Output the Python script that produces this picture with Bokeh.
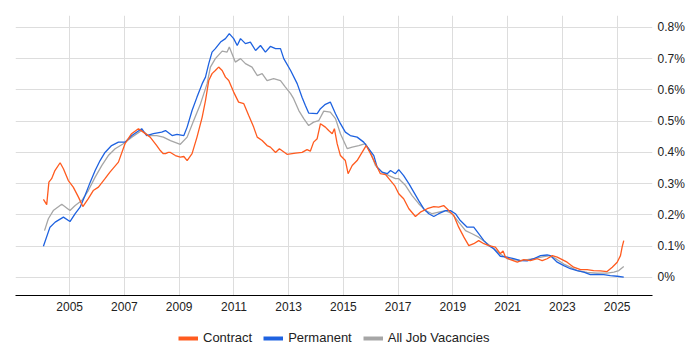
from bokeh.plotting import figure
from bokeh.layouts import column
from bokeh.models import Range1d, Legend, LegendItem, CustomJSTickFormatter, FixedTicker, LinearAxis
from bokeh.embed import file_html
from bokeh.resources import INLINE

contract_year = [2004.04, 2004.16, 2004.24, 2004.34, 2004.46, 2004.65, 2004.77, 2004.95, 2005.13, 2005.32,
                 2005.48, 2005.68, 2005.86, 2006.05, 2006.29, 2006.47, 2006.78, 2007.02, 2007.26, 2007.51,
                 2007.69, 2007.94, 2008.18, 2008.31, 2008.42, 2008.5, 2008.6, 2008.68, 2008.86, 2009.04,
                 2009.17, 2009.29, 2009.47, 2009.65, 2009.84, 2009.96, 2010.08, 2010.2, 2010.32, 2010.44,
                 2010.57, 2010.69, 2010.81, 2010.99, 2011.17, 2011.36, 2011.54, 2011.72, 2011.85, 2012.03,
                 2012.21, 2012.33, 2012.52, 2012.66, 2012.94, 2013.25, 2013.49, 2013.67, 2013.79, 2013.91,
                 2014.04, 2014.16, 2014.34, 2014.46, 2014.59, 2014.67, 2014.77, 2014.89, 2015.07, 2015.17,
                 2015.32, 2015.5, 2015.68, 2015.83, 2015.99, 2016.17, 2016.35, 2016.54, 2016.72, 2016.87,
                 2017.02, 2017.2, 2017.39, 2017.63, 2017.81, 2018.06, 2018.3, 2018.48, 2018.66, 2018.85,
                 2019.03, 2019.21, 2019.4, 2019.58, 2019.76, 2019.94, 2020.13, 2020.31, 2020.55, 2020.73,
                 2020.83, 2020.92, 2021.1, 2021.35, 2021.59, 2021.83, 2022.08, 2022.26, 2022.44, 2022.63,
                 2022.81, 2022.99, 2023.17, 2023.41, 2023.66, 2023.9, 2024.14, 2024.39, 2024.63, 2024.82,
                 2025.0, 2025.12, 2025.18, 2025.24]
contract_pct = [0.25, 0.233, 0.305, 0.316, 0.342, 0.367, 0.348, 0.31, 0.289, 0.257,
                0.227, 0.252, 0.278, 0.289, 0.316, 0.337, 0.369, 0.428, 0.46, 0.476,
                0.465, 0.449, 0.422, 0.406, 0.396, 0.396, 0.40, 0.40, 0.39, 0.385,
                0.387, 0.374, 0.396, 0.449, 0.513, 0.566, 0.63, 0.652, 0.662, 0.673,
                0.662, 0.641, 0.63, 0.593, 0.561, 0.556, 0.518, 0.481, 0.449, 0.438,
                0.422, 0.417, 0.40, 0.412, 0.394, 0.398, 0.40, 0.409, 0.404, 0.433,
                0.444, 0.492, 0.481, 0.47, 0.46, 0.476, 0.428, 0.39, 0.374, 0.332,
                0.358, 0.374, 0.40, 0.422, 0.396, 0.364, 0.332, 0.329, 0.31, 0.294,
                0.268, 0.252, 0.22, 0.195, 0.209, 0.22, 0.227, 0.225, 0.23, 0.214,
                0.198, 0.161, 0.129, 0.102, 0.108, 0.118, 0.108, 0.102, 0.097, 0.076,
                0.085, 0.065, 0.057, 0.049, 0.057, 0.054, 0.06, 0.054, 0.06, 0.07,
                0.065, 0.057, 0.049, 0.033, 0.025, 0.025, 0.022, 0.021, 0.019, 0.033,
                0.049, 0.07, 0.097, 0.118]

perm_year = [2004.04, 2004.28, 2004.47, 2004.77, 2005.01, 2005.2, 2005.38, 2005.56, 2005.75, 2005.93,
             2006.11, 2006.29, 2006.53, 2006.78, 2007.02, 2007.27, 2007.63, 2007.81, 2008.06, 2008.36,
             2008.5, 2008.74, 2008.92, 2009.17, 2009.29, 2009.47, 2009.65, 2009.84, 2009.96, 2010.08,
             2010.2, 2010.32, 2010.51, 2010.69, 2010.83, 2010.99, 2011.12, 2011.24, 2011.42, 2011.6,
             2011.79, 2011.97, 2012.15, 2012.33, 2012.52, 2012.7, 2012.82, 2013.07, 2013.31, 2013.49,
             2013.61, 2013.73, 2014.04, 2014.16, 2014.34, 2014.52, 2014.71, 2014.89, 2015.07, 2015.25,
             2015.5, 2015.74, 2015.92, 2016.11, 2016.23, 2016.41, 2016.6, 2016.72, 2016.9, 2017.02,
             2017.2, 2017.39, 2017.57, 2017.75, 2017.93, 2018.12, 2018.3, 2018.48, 2018.73, 2018.91,
             2019.09, 2019.27, 2019.52, 2019.76, 2019.94, 2020.13, 2020.31, 2020.49, 2020.73, 2020.98,
             2021.22, 2021.47, 2021.71, 2021.95, 2022.2, 2022.44, 2022.56, 2022.81, 2023.05, 2023.29,
             2023.54, 2023.78, 2024.02, 2024.27, 2024.51, 2024.75, 2025.0, 2025.24]
perm_pct = [0.10, 0.161, 0.177, 0.193, 0.179, 0.204, 0.225, 0.262, 0.305, 0.342,
            0.374, 0.40, 0.422, 0.433, 0.433, 0.454, 0.476, 0.454, 0.46, 0.465,
            0.47, 0.454, 0.458, 0.454, 0.481, 0.534, 0.577, 0.62, 0.641, 0.684,
            0.721, 0.732, 0.753, 0.764, 0.78, 0.764, 0.742, 0.764, 0.748, 0.753,
            0.726, 0.742, 0.721, 0.739, 0.732, 0.732, 0.70, 0.662, 0.62, 0.576,
            0.55, 0.526, 0.524, 0.54, 0.554, 0.561, 0.524, 0.492, 0.465, 0.454,
            0.449, 0.433, 0.412, 0.39, 0.353, 0.337, 0.332, 0.342, 0.332, 0.345,
            0.326, 0.30, 0.273, 0.246, 0.22, 0.204, 0.195, 0.204, 0.214, 0.214,
            0.204, 0.182, 0.161, 0.161, 0.14, 0.118, 0.102, 0.092, 0.068, 0.065,
            0.06, 0.054, 0.053, 0.06, 0.07, 0.072, 0.07, 0.049, 0.038, 0.028,
            0.022, 0.017, 0.009, 0.01, 0.009, 0.006, 0.004, 0.001]

all_year = [2004.08, 2004.22, 2004.4, 2004.71, 2005.01, 2005.2, 2005.44, 2005.68, 2005.93, 2006.17,
            2006.41, 2006.66, 2006.96, 2007.27, 2007.63, 2007.88, 2008.18, 2008.42, 2008.68, 2009.04,
            2009.29, 2009.53, 2009.78, 2010.02, 2010.14, 2010.32, 2010.57, 2010.75, 2010.83, 2011.05,
            2011.24, 2011.42, 2011.66, 2011.85, 2012.03, 2012.21, 2012.45, 2012.7, 2012.88, 2013.07,
            2013.18, 2013.37, 2013.55, 2013.73, 2013.91, 2014.1, 2014.28, 2014.52, 2014.71, 2014.89,
            2015.14, 2015.32, 2015.56, 2015.8, 2015.99, 2016.17, 2016.41, 2016.66, 2016.9, 2017.02,
            2017.27, 2017.51, 2017.75, 2018.0, 2018.24, 2018.48, 2018.73, 2018.97, 2019.21, 2019.46,
            2019.7, 2019.94, 2020.19, 2020.43, 2020.73, 2020.98, 2021.47, 2021.95, 2022.32, 2022.56,
            2022.81, 2023.05, 2023.29, 2023.54, 2023.9, 2024.27, 2024.63, 2024.88, 2025.06, 2025.24]
all_pct = [0.15, 0.188, 0.214, 0.234, 0.214, 0.23, 0.246, 0.278, 0.321, 0.358,
           0.39, 0.412, 0.428, 0.449, 0.47, 0.454, 0.454, 0.449, 0.438, 0.426,
           0.449, 0.502, 0.556, 0.62, 0.673, 0.70, 0.724, 0.721, 0.737, 0.689,
           0.70, 0.684, 0.673, 0.646, 0.652, 0.63, 0.636, 0.63, 0.609, 0.588,
           0.572, 0.534, 0.508, 0.486, 0.497, 0.502, 0.532, 0.529, 0.508, 0.46,
           0.412, 0.417, 0.422, 0.428, 0.40, 0.358, 0.337, 0.326, 0.316, 0.316,
           0.294, 0.262, 0.236, 0.214, 0.204, 0.209, 0.214, 0.204, 0.177, 0.15,
           0.14, 0.129, 0.113, 0.097, 0.075, 0.06, 0.054, 0.06, 0.067, 0.07,
           0.057, 0.043, 0.033, 0.022, 0.016, 0.014, 0.014, 0.017, 0.022, 0.035]

x_ticks = [2005, 2007, 2009, 2011, 2013, 2015, 2017, 2019, 2021, 2023, 2025]
y_ticks = [0, 0.1, 0.2, 0.3, 0.4, 0.5, 0.6, 0.7, 0.8]
series_names = ["Contract", "Permanent", "All Job Vacancies"]

c_orange = "#FF5B1F"
c_blue = "#1E62E0"
c_gray = "#A6A6A6"

p = figure(frame_width=637, frame_height=280, output_backend="svg", toolbar_location=None,
           x_range=Range1d(2003.02, 2026.29), y_range=Range1d(-0.0576, 0.838),
           min_border_left=15, min_border_top=15, min_border_right=4, min_border_bottom=26,
           y_axis_location=None)
p.outline_line_color = None
p.background_fill_color = "white"

r_all = p.line(all_year, all_pct, line_color=c_gray, line_width=1.3)
r_perm = p.line(perm_year, perm_pct, line_color=c_blue, line_width=1.3)
r_con = p.line(contract_year, contract_pct, line_color=c_orange, line_width=1.3)

# x axis
xa = p.xaxis[0]
xa.ticker = FixedTicker(ticks=x_ticks)
xa.axis_line_color = "#000000"
xa.axis_line_width = 1
xa.major_tick_line_color = None
xa.minor_tick_line_color = None
xa.major_tick_out = 0
xa.minor_tick_out = 0
xa.major_tick_in = 0
xa.major_label_text_font = "Liberation Sans"
xa.major_label_text_font_size = "12px"
xa.major_label_text_color = "#222222"
xa.major_label_standoff = 6

# y axis on the right
ya = LinearAxis(ticker=FixedTicker(ticks=y_ticks))
ya.formatter = CustomJSTickFormatter(code="return tick < 0.0001 ? '0%' : tick.toFixed(1) + '%';")
ya.axis_line_color = None
ya.major_tick_line_color = None
ya.minor_tick_line_color = None
ya.major_tick_out = 0
ya.minor_tick_out = 0
ya.major_label_text_font = "Liberation Sans"
ya.major_label_text_font_size = "12px"
ya.major_label_text_color = "#222222"
ya.major_label_standoff = 5
p.add_layout(ya, "right")

p.xgrid[0].ticker = FixedTicker(ticks=x_ticks)
p.xgrid[0].grid_line_color = "#DDDDDD"
p.ygrid[0].ticker = FixedTicker(ticks=y_ticks)
p.ygrid[0].grid_line_color = "#DDDDDD"

# legend strip below the chart (series drawn out of view; only their legend swatches show)
pl = figure(frame_width=637, frame_height=26, output_backend="svg", toolbar_location=None,
            x_range=Range1d(0, 1), y_range=Range1d(0, 1),
            min_border_left=15, min_border_top=0, min_border_right=48, min_border_bottom=0,
            x_axis_location=None, y_axis_location=None)
pl.outline_line_color = None
pl.xgrid.visible = False
pl.ygrid.visible = False
k_con = pl.line(contract_year, contract_pct, line_color=c_orange, line_width=4)
k_perm = pl.line(perm_year, perm_pct, line_color=c_blue, line_width=4)
k_all = pl.line(all_year, all_pct, line_color=c_gray, line_width=4)

legend = Legend(items=[LegendItem(label=series_names[0], renderers=[k_con]),
                       LegendItem(label=series_names[1], renderers=[k_perm]),
                       LegendItem(label=series_names[2], renderers=[k_all])],
                orientation="horizontal", location=(163, 2),
                border_line_color=None, background_fill_alpha=0,
                label_text_font="Liberation Sans", label_text_font_size="13px",
                label_text_color="#222222", glyph_width=20, glyph_height=14,
                label_standoff=5, spacing=11, padding=0, margin=0)
pl.add_layout(legend, "center")

layout = column(p, pl, spacing=0)
open("out.html", "w").write(file_html(layout, INLINE))
